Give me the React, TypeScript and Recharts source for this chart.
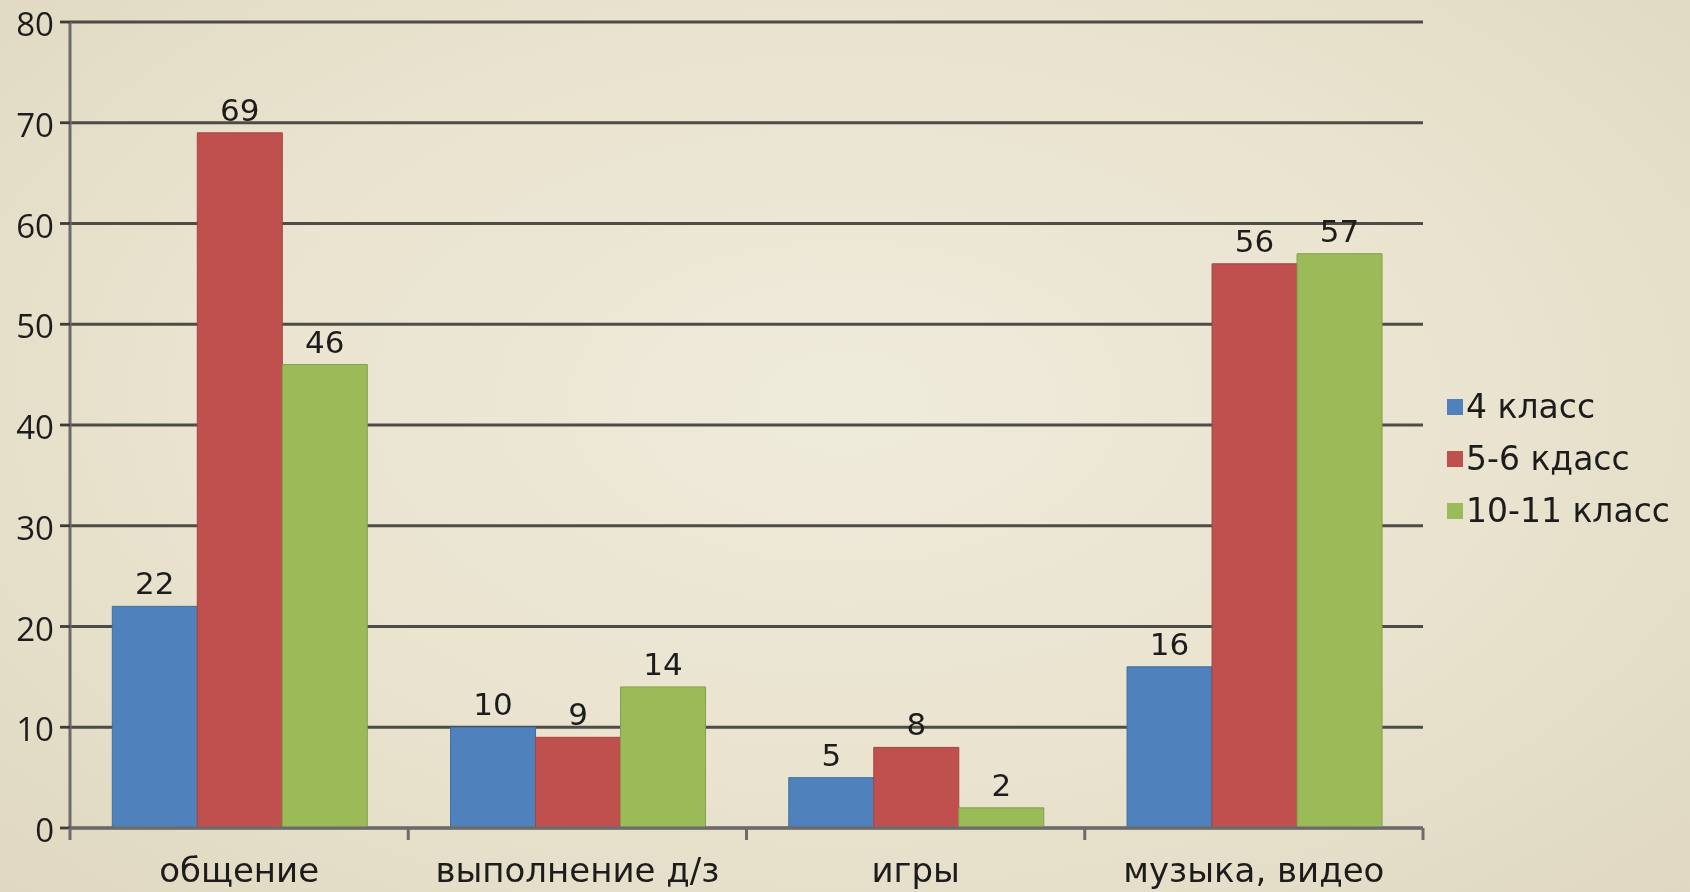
import { Bar, BarChart, CartesianGrid, LabelList, XAxis, YAxis } from "recharts";

const categories = ["общение", "выполнение д/з", "игры", "музыка, видео"];
const grade4 = [22, 10, 5, 16];
const grade56 = [69, 9, 8, 56];
const grade1011 = [46, 14, 2, 57];
const seriesNames = ["4 класс", "5-6 кдасс", "10-11 класс"];
const yTicks = [0, 10, 20, 30, 40, 50, 60, 70, 80];

const BLUE = "#4f81bd";
const RED = "#c0504d";
const GREEN = "#9bbb59";
const FONT = "'DejaVu Sans', sans-serif";
const NUM_FONT = "'Open Sans', sans-serif";
const INK = "#1c1c1c";

const W = 1690;
const H = 892;
const LEFT = 70;
const RIGHT = 267;
const PLOT_W = W - LEFT - RIGHT;
const BAND = PLOT_W / categories.length;

const data = categories.map((name, i) => ({
  name,
  g4: grade4[i],
  g56: grade56[i],
  g1011: grade1011[i],
}));

function CatTick({ x, y, payload, index }: any) {
  const half = BAND / 2;
  return (
    <g>
      <line x1={x - half} x2={x - half} y1={y - 8} y2={y + 4} stroke="#6b6b6b" strokeWidth={3} />
      {index === categories.length - 1 && (
        <line x1={x + half} x2={x + half} y1={y - 8} y2={y + 4} stroke="#6b6b6b" strokeWidth={3} />
      )}
      <text x={x} y={y + 46} textAnchor="middle" fill={INK} fontSize={34} fontFamily={FONT}>
        {payload.value}
      </text>
    </g>
  );
}

function ValueTick({ x, y, payload }: any) {
  return (
    <text x={x} y={y + 14} textAnchor="end" fill={INK} fontSize={33} fontFamily={NUM_FONT}>
      {payload.value}
    </text>
  );
}

// legend sits to the right of the plot, outside the chart's own layout
function LegendBox() {
  const colors = [BLUE, RED, GREEN];
  return (
    <div
      style={{
        position: "absolute",
        left: 1447,
        top: 381,
        fontFamily: FONT,
        fontSize: 33,
        color: INK,
        lineHeight: "52px",
      }}
    >
      {seriesNames.map((n, i) => (
        <div key={n} style={{ display: "flex", alignItems: "center", whiteSpace: "nowrap" }}>
          <span style={{ width: 16, height: 16, background: colors[i], marginRight: 3, display: "inline-block" }} />
          {n}
        </div>
      ))}
    </div>
  );
}

export default function App() {
  const label = { fill: INK, fontSize: 31, fontFamily: FONT };
  return (
    <div
      style={{
        position: "fixed",
        left: 0,
        top: 0,
        width: W,
        height: H,
        background: "radial-gradient(ellipse at 50% 45%, #efebdb 0%, #e9e3cf 55%, #e0d8c0 100%)",
      }}
    >
      <BarChart
        width={W}
        height={H}
        data={data}
        margin={{ top: 22, right: RIGHT, bottom: 0, left: 0 }}
        barCategoryGap="12.5%"
        barGap={0}
      >
        <CartesianGrid vertical={false} stroke="#3c3b36" strokeWidth={2.8} strokeOpacity={0.9} />
        <XAxis
          dataKey="name"
          height={64}
          axisLine={{ stroke: "#6b6b6b", strokeWidth: 3 }}
          tickLine={false}
          tick={<CatTick />}
          interval={0}
        />
        <YAxis
          width={LEFT}
          domain={[0, 80]}
          ticks={yTicks}
          interval={0}
          axisLine={{ stroke: "#6b6b6b", strokeWidth: 3 }}
          tickLine={{ stroke: "#3c3b36", strokeWidth: 2.8 }}
          tickSize={10}
          tickMargin={6}
          tick={<ValueTick />}
        />
        <Bar dataKey="g4" name={seriesNames[0]} fill={BLUE} stroke="#41709f" strokeWidth={1} isAnimationActive={false}>
          <LabelList dataKey="g4" position="top" offset={12} style={label} />
        </Bar>
        <Bar dataKey="g56" name={seriesNames[1]} fill={RED} stroke="#a34542" strokeWidth={1} isAnimationActive={false}>
          <LabelList dataKey="g56" position="top" offset={12} style={label} />
        </Bar>
        <Bar dataKey="g1011" name={seriesNames[2]} fill={GREEN} stroke="#849f4b" strokeWidth={1} isAnimationActive={false}>
          <LabelList dataKey="g1011" position="top" offset={12} style={label} />
        </Bar>
      </BarChart>
      <LegendBox />
    </div>
  );
}
